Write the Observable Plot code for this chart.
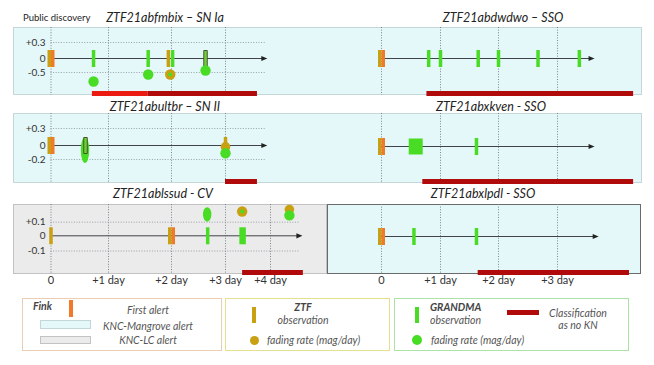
<!DOCTYPE html>
<html><head><meta charset="utf-8">
<script src="https://cdn.jsdelivr.net/npm/d3@7"></script>
<script src="https://cdn.jsdelivr.net/npm/@observablehq/plot@0.6"></script>
<style>
body{margin:0;background:#fff;font-family:Lato,"Open Sans",sans-serif;}
#root{position:relative;width:654px;height:365px;overflow:hidden;background:#fff;}
.box{position:absolute;box-sizing:border-box;}
.t{position:absolute;white-space:nowrap;line-height:1;}
.panel{position:absolute;}
</style></head>
<body><div id="root"></div>
<script>
// ---------------- data ----------------
const panelTitles = ["ZTF21abfmbix – SN Ia","ZTF21abdwdwo – SSO","ZTF21abultbr – SN II","ZTF21abxkven - SSO","ZTF21ablssud - CV","ZTF21abxlpdl - SSO"];
const dayTicks = [[0,1,2,3],[0,1,2,3],[0,1,2,3],[0,1,2,3],[0,1,2,3,4],[0,1,2,3]];
const dayLabels = ["0","+1 day","+2 day","+3 day","+4 day"];
const labelledPanels = [4,5];
const axisEnd = [3.84,3.56,3.84,3.56,4.62,3.63];
const gridEnd = [3.89,null,3.88,null,4.64,null];
const rateTicks = [[0.3,0,-0.5],[],[0.3,0,-0.2],[],[0.1,0,-0.1],[]];
const firstAlerts = [{panel:0,day:0},{panel:1,day:0},{panel:2,day:0},{panel:3,day:0},{panel:4,day:2},{panel:5,day:0}];
const ztfObs = [{panel:0,day:0},{panel:0,day:1.95},{panel:1,day:0},{panel:2,day:0},{panel:2,day:3.0},{panel:3,day:0},{panel:4,day:0},{panel:4,day:2},{panel:5,day:0}];
const grandmaObs = [
  {panel:0,day:0.74,kind:"bar"},{panel:0,day:1.63,kind:"bar"},{panel:0,day:2.02,kind:"bar"},{panel:0,day:2.63,kind:"outlined"},
  {panel:1,day:0.80,kind:"bar"},{panel:1,day:1.0,kind:"bar"},{panel:1,day:1.65,kind:"bar"},{panel:1,day:2.0,kind:"bar"},{panel:1,day:2.67,kind:"bar"},{panel:1,day:3.37,kind:"bar"},
  {panel:2,day:0.6,kind:"outlined"},
  {panel:3,day:0.58,kind:"block"},{panel:3,day:1.62,kind:"bar"},
  {panel:4,day:2.67,kind:"bar"},{panel:4,day:3.38,kind:"wide"},
  {panel:5,day:0.55,kind:"bar"},{panel:5,day:1.62,kind:"bar"}
];
const grandmaRates = [{panel:0,day:0.74,rate:-0.82},{panel:0,day:1.63,rate:-0.57},{panel:0,day:2.63,rate:-0.43},{panel:2,day:3.0,rate:-0.11},{panel:4,day:4.42,rate:0.15}];
const grandmaRateSpans = [{panel:2,day:0.6,lo:-0.257,hi:0.141},{panel:4,day:2.67,lo:0.1,hi:0.207}];
const ztfRates = [{panel:2,day:3.0,rate:-0.02},{panel:4,day:4.42,rate:0.193}];
const sharedRates = [{panel:0,day:1.98,rate:-0.57},{panel:4,day:3.37,rate:0.179}];
const noKN = [
  {panel:0,from:0.72,to:1.63,stage:"early"},{panel:0,from:1.63,to:3.71,stage:"final"},
  {panel:1,from:0.77,to:4.29,stage:"final"},{panel:2,from:3.0,to:3.71,stage:"final"},
  {panel:3,from:0.70,to:4.29,stage:"final"},{panel:4,from:3.38,to:4.73,stage:"final"},
  {panel:5,from:1.65,to:4.22,stage:"final"}
];

// ---------------- styles / layout ----------------
const C = {green:"#48dc24", gold:"#c9a012", orange:"#f07a2a", red:"#ec1b12", darkred:"#b10a0a",
  cyan:"#e4f7f9", cyanBorder:"#c3d6d9", gray:"#ebebeb", grayBorder:"#c2c2c2"};
const layout = [
  {left:0,  top:27,  h:68, xd:[0,1,2,3,4], xr:[50.5,108,171,225,270], yd:[-0.5,0,0.3], yr:[45,31,15]},
  {left:327,top:27,  h:68, xd:[0,1,2,3],   xr:[54,113,171,230],       yd:[-1,0,1],     yr:[45,31,17]},
  {left:0,  top:113, h:70, xd:[0,1,2,3,4], xr:[50.5,108,171,225,270], yd:[-0.2,0,0.3], yr:[46,32,15]},
  {left:327,top:113, h:70, xd:[0,1,2,3],   xr:[54,113,171,230],       yd:[-1,0,1],     yr:[47,33,17]},
  {left:0,  top:204, h:70, xd:[0,1,2,3,4], xr:[50.5,108,171,225,270], yd:[-0.1,0,0.1], yr:[46.5,31.3,17.7]},
  {left:327,top:204, h:70, xd:[0,1,2,3],   xr:[54,113,171,230],       yd:[-1,0,1],     yr:[46,32,18]}
];
const titlePos = [[165,18],[503,18],[165,107],[491,107],[163,194],[483,194]];

const root = document.getElementById("root");
function box(x,y,w,h,fill,border){const d=document.createElement("div");d.className="box";
  d.style.cssText=`left:${x}px;top:${y}px;width:${w}px;height:${h}px;background:${fill};border:1px solid ${border};`;root.appendChild(d);return d;}
function txt(s,x,y,{size=10.5,anchor="start",italic=true,bold=false,color="#555"}={}){const d=document.createElement("div");d.className="t";d.textContent=s;
  d.style.cssText=`left:${x}px;top:${y}px;font-size:${size}px;font-style:${italic?"italic":"normal"};font-weight:${bold?"bold":"normal"};color:${color};transform:translate(${anchor==="middle"?"-50%":"0"},-50%);`;root.appendChild(d);}

// panel backgrounds
box(13,27,629,68,C.cyan,C.cyanBorder);
box(13,113,629,70,C.cyan,C.cyanBorder);
box(13,204,314,70,C.gray,C.grayBorder);
box(327,204,314,70,C.cyan,"#6a6a6a");

// titles
txt("Public discovery",23,18,{size:9.5,italic:false,color:"#222"});
panelTitles.forEach((t,i)=>txt(t,titlePos[i][0],titlePos[i][1],{size:12.5,anchor:"middle",color:"#222"}));

// symbols
const rectSym=(w,h)=>({draw(c){c.moveTo(-w/2,-h/2);c.lineTo(w/2,-h/2);c.lineTo(w/2,h/2);c.lineTo(-w/2,h/2);c.closePath();}});
const arrowSym={draw(c){c.moveTo(4,0);c.lineTo(-2,-2.6);c.lineTo(-2,2.6);c.closePath();}};
const kindSize={bar:[3.5,17],wide:[6.5,17],block:[14,16],outlined:[3.5,16]};
const fmtRate=d=>d>0?"+"+d:String(d);

layout.forEach((L,i)=>{
  const isLeft = L.left===0;
  const labelled = labelledPanels.includes(i);
  const extra = labelled?22:4;
  const sel = arr=>arr.filter(d=>d.panel===i);
  const fa = sel(firstAlerts);
  const coincide = d=>fa.some(f=>Math.abs(f.day-d.day)<0.05);
  const marks = [
    Plot.ruleX(dayTicks[i],{stroke:"#6c7a80",strokeWidth:0.9,strokeDasharray:"1,1.6"}),
  ];
  const gt = rateTicks[i].filter(d=>d!==0);
  if (gt.length) marks.push(Plot.ruleY(gt,{x1:0,x2:gridEnd[i],stroke:"#8e9a9e",strokeWidth:0.9,strokeDasharray:"1,1.6"}));
  marks.push(
    Plot.barX(sel(noKN).filter(d=>d.stage==="early"),{x1:"from",x2:"to",fill:C.red,insetTop:L.h-4,insetBottom:-1}),
    Plot.barX(sel(noKN).filter(d=>d.stage!=="early"),{x1:"from",x2:"to",fill:C.darkred,insetTop:L.h-4,insetBottom:-1}),
    Plot.ruleY([0],{x1:0,x2:axisEnd[i],stroke:"#404448",strokeWidth:1}),
    Plot.dot([axisEnd[i]],{x:d=>d,y:0,symbol:arrowSym,fill:"#222",stroke:"none"}),
    Plot.rect(sel(grandmaRateSpans),{x1:"day",x2:"day",y1:"lo",y2:"hi",insetLeft:-4.2,insetRight:-4.2,rx:20,ry:20,fill:C.green}),
  );
  sel(ztfObs).forEach(d=>marks.push(Plot.dot([d],{x:"day",y:0,symbol:rectSym(3.5,17),fill:C.gold,stroke:"none",dx:coincide(d)?-1.75:0})));
  marks.push(Plot.dot(fa,{x:"day",y:0,symbol:rectSym(3.5,17),fill:C.orange,stroke:"none",dx:1.75}));
  Object.keys(kindSize).forEach(k=>{
    const [w,h]=kindSize[k];
    marks.push(Plot.dot(sel(grandmaObs).filter(d=>d.kind===k),{x:"day",y:0,symbol:rectSym(w,h),
      fill:k==="outlined"?"#72cf3c":C.green,stroke:k==="outlined"?"#3d4a22":"none",strokeWidth:0.9}));
  });
  marks.push(
    Plot.dot(sel(ztfRates),{x:"day",y:"rate",r:4.8,fill:C.gold,stroke:"none"}),
    Plot.dot(sel(grandmaRates),{x:"day",y:"rate",r:5.2,fill:C.green,stroke:"none"}),
    Plot.dot(sel(sharedRates),{x:"day",y:"rate",r:5.2,fill:C.gold,stroke:"none"}),
    Plot.dot(sel(sharedRates),{x:"day",y:"rate",r:2,fill:C.green,stroke:"none"})
  );
  if (rateTicks[i].length) marks.push(Plot.text(rateTicks[i],{y:d=>d,frameAnchor:"left",textAnchor:"end",dx:-3,text:fmtRate,fontSize:10,fill:"#333"}));
  if (labelled) marks.push(Plot.text(dayTicks[i],{x:d=>d,frameAnchor:"bottom",dy:9,text:d=>dayLabels[d],fontSize:11,fill:"#333"}));
  const svg = Plot.plot({
    width:327, height:L.h+extra, marginTop:0, marginBottom:extra, marginLeft:isLeft?48:0, marginRight:0,
    x:{type:"linear",domain:L.xd,range:L.xr,axis:null},
    y:{type:"linear",domain:L.yd,range:L.yr,axis:null},
    style:{background:"transparent",overflow:"visible",fontFamily:"Lato, sans-serif"},
    marks
  });
  const wrap=document.createElement("div");wrap.className="panel";
  wrap.style.cssText=`left:${L.left}px;top:${L.top}px;width:327px;`;
  wrap.appendChild(svg);root.appendChild(wrap);
});

// ---------------- legend ----------------
function sw(x,y,w,h,fill,radius){const d=document.createElement("div");d.className="box";
  d.style.cssText=`left:${x}px;top:${y}px;width:${w}px;height:${h}px;background:${fill};border-radius:${radius||0};`;root.appendChild(d);}
box(22,298,200,53,"#fff","#ebcdb2");
txt("Fink",33,306,{bold:true,color:"#444",size:10.5});
sw(69,300,3.5,17,C.orange);
txt("First alert",148,310,{anchor:"middle"});
box(40,320,51,9,C.cyan,C.cyanBorder);
txt("KNC-Mangrove alert",148,326,{anchor:"middle"});
box(40,336,51,8,C.gray,C.grayBorder);
txt("KNC-LC alert",148,340,{anchor:"middle"});

box(225,298,165,53,"#fff","#e3e08e");
sw(252,307,4,16,C.gold);
txt("ZTF",303,307,{anchor:"middle",bold:true,color:"#444"});
txt("observation",303,320,{anchor:"middle"});
sw(249.5,335.5,9,9,C.gold,"50%");
txt("fading rate (mag/day)",267,340);

box(394,298,235,53,"#fff","#abe2a6");
sw(415,307,3.5,16,C.green);
txt("GRANDMA",430,307,{bold:true,color:"#444"});
txt("observation",430,320);
sw(412,335,10,10,C.green,"50%");
txt("fading rate (mag/day)",431,340);
sw(507,310,32,4.5,C.darkred);
txt("Classification",578,313,{anchor:"middle"});
txt("as no KN",578,325,{anchor:"middle"});
</script></body></html>
